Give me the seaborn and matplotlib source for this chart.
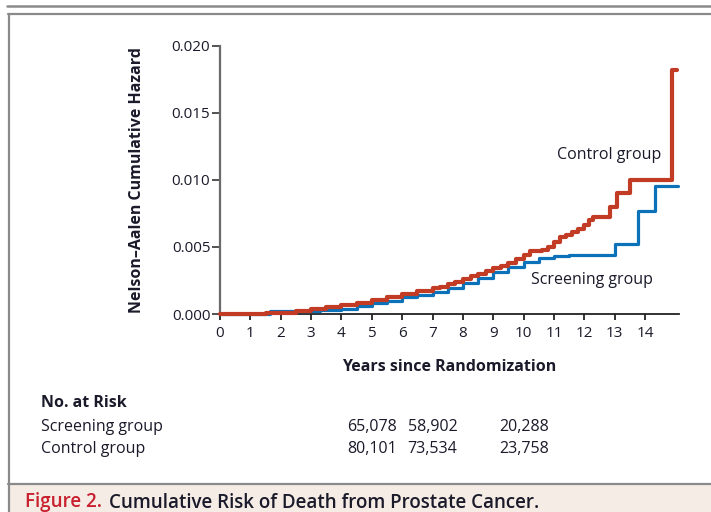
import matplotlib
matplotlib.use("Agg")
import matplotlib.pyplot as plt
from matplotlib.patches import Rectangle
from matplotlib.lines import Line2D
import pandas as pd
import seaborn as sns

# Nelson-Aalen cumulative hazard, step points (years, hazard)
control_years = [0.0, 1.0, 1.5, 2.0, 2.5, 3.0, 3.5, 4.0, 4.5, 5.0, 5.5, 6.0, 6.5,
                 7.0, 7.25, 7.5, 7.75, 8.0, 8.25, 8.5, 8.75, 9.0, 9.25, 9.5, 9.75,
                 10.0, 10.2, 10.6, 10.8, 11.0, 11.2, 11.4, 11.6, 11.8, 12.0, 12.15,
                 12.3, 12.85, 13.07, 13.5, 14.9, 15.05]
control_hazard = [0.0, 0.00002, 0.00005, 0.0001, 0.0002, 0.00035, 0.0005, 0.00067,
                  0.00085, 0.00105, 0.00127, 0.0015, 0.00172, 0.0019, 0.0020, 0.0022,
                  0.0024, 0.0026, 0.0028, 0.0030, 0.0032, 0.0034, 0.0036, 0.0038,
                  0.0041, 0.0044, 0.0047, 0.0048, 0.0050, 0.0054, 0.0057, 0.0059,
                  0.0061, 0.0063, 0.0066, 0.0070, 0.0072, 0.0080, 0.0090, 0.0100,
                  0.0182, 0.0182]

screening_years = [0.0, 1.0, 1.65, 2.5, 3.3, 4.0, 4.5, 5.0, 5.5, 6.0, 6.5, 7.0, 7.5,
                   8.0, 8.5, 9.0, 9.5, 10.0, 10.5, 11.0, 11.5, 13.0, 13.75, 14.33,
                   15.08]
screening_hazard = [0.0, 0.00001, 0.0002, 0.00022, 0.0003, 0.0004, 0.0006, 0.0008,
                    0.0010, 0.00125, 0.00145, 0.00165, 0.0019, 0.0023, 0.0027, 0.0031,
                    0.0035, 0.0039, 0.0042, 0.0043, 0.0044, 0.00525, 0.0077, 0.0095,
                    0.0095]

groups = ["Screening group", "Control group"]
group_colors = ["#0b72b9", "#c23b24"]

x_ticks = list(range(0, 15))
y_ticks = [0.000, 0.005, 0.010, 0.015, 0.020]
y_tick_labels = ["0.000", "0.005", "0.010", "0.015", "0.020"]

risk_years = [5, 7, 10]
risk_screening = ["65,078", "58,902", "20,288"]
risk_control = ["80,101", "73,534", "23,758"]

df = pd.concat([
    pd.DataFrame({"year": screening_years, "hazard": screening_hazard, "group": groups[0]}),
    pd.DataFrame({"year": control_years, "hazard": control_hazard, "group": groups[1]}),
], ignore_index=True)

sns.set_theme(style="white")
plt.rcParams["font.family"] = ["Open Sans", "DejaVu Sans"]

W, H = 711, 512
fig = plt.figure(figsize=(W / 100, H / 100), dpi=100)
text_color = "#1a1a2a"
fs = 11.5

# page frame lines and caption band
frame_color = "#8a8a8a"
fig.add_artist(Line2D([7 / W, 1], [1 - 5.5 / H] * 2, color=frame_color, lw=1.8))
fig.add_artist(Line2D([8 / W, 1], [1 - 13.5 / H] * 2, color=frame_color, lw=1.6))
fig.add_artist(Line2D([8.5 / W] * 2, [0, 1 - 13.5 / H], color=frame_color, lw=1.6))
fig.add_artist(Rectangle((9 / W, 0), 1, (H - 484) / H, transform=fig.transFigure,
                         facecolor="#f4ece5", edgecolor="none"))
fig.add_artist(Line2D([8 / W, 1], [1 - 484 / H] * 2, color=frame_color, lw=1.6))

ax = fig.add_axes([220 / W, 1 - 314 / H, (678.5 - 220) / W, (314 - 45.5) / H])

sns.lineplot(data=df[df.group == groups[0]], x="year", y="hazard", ax=ax,
             color=group_colors[0], lw=2.3, drawstyle="steps-post",
             estimator=None, sort=False, clip_on=False, zorder=3)
sns.lineplot(data=df[df.group == groups[1]], x="year", y="hazard", ax=ax,
             color=group_colors[1], lw=3.0, drawstyle="steps-post",
             estimator=None, sort=False, clip_on=False, zorder=4)

ax.set_xlim(0, 15.1)
ax.set_ylim(0, 0.0200)
ax.set_xticks(x_ticks)
ax.set_yticks(y_ticks)
ax.set_yticklabels(y_tick_labels)

for side in ["top", "right"]:
    ax.spines[side].set_visible(False)
ax.spines["left"].set_color("#6a6a6a")
ax.spines["left"].set_linewidth(1.6)
ax.spines["bottom"].set_color("#222222")
ax.spines["bottom"].set_linewidth(1.3)
ax.tick_params(axis="y", direction="out", length=6, width=1.3, color="#444444",
               labelsize=11, labelcolor=text_color, pad=1, left=True)
ax.tick_params(axis="x", direction="out", length=4.5, width=1.3, color="#222222",
               labelsize=11, labelcolor=text_color, pad=4, bottom=True)

ax.set_xlabel("Years since Randomization", fontsize=fs, fontweight="bold",
              color=text_color)
ax.set_ylabel("Nelson\u2013Aalen Cumulative Hazard", fontsize=fs, fontweight="bold",
              color=text_color)
ax.xaxis.label.set_va("center")
ax.yaxis.label.set_va("center")
ax.yaxis.label.set_ha("center")
ax.xaxis.set_label_coords(0.499, -(367 - 314) / 268.5)
ax.yaxis.set_label_coords(-(220 - 137) / 458.5, 0.5)

ax.text(12.8, 0.01182, groups[1], ha="center", va="center", fontsize=fs,
        color=text_color)
ax.text(12.24, 0.00253, groups[0], ha="center", va="center", fontsize=fs,
        color=text_color)

# number-at-risk table
fig.text(41 / W, 1 - 403 / H, "No. at Risk", fontsize=fs, fontweight="bold",
         color=text_color, va="center")
fig.text(41 / W, 1 - 427 / H, groups[0], fontsize=fs, color=text_color, va="center")
fig.text(41 / W, 1 - 449 / H, groups[1], fontsize=fs, color=text_color, va="center")
blend = matplotlib.transforms.blended_transform_factory(ax.transData, fig.transFigure)
for yr, s, c in zip(risk_years, risk_screening, risk_control):
    ax.text(yr, 1 - 427 / H, s, transform=blend, ha="center", va="center",
            fontsize=fs, color=text_color, clip_on=False)
    ax.text(yr, 1 - 449 / H, c, transform=blend, ha="center", va="center",
            fontsize=fs, color=text_color, clip_on=False)

# figure caption in the bottom band
fig.text(25 / W, 1 - 507.5 / H, "Figure 2.", fontsize=13.5, color="#c8202f",
         fontweight="semibold", va="baseline")
fig.text(109 / W, 1 - 507.5 / H, "Cumulative Risk of Death from Prostate Cancer.",
         fontsize=13.5, color=text_color, fontweight="semibold", va="baseline")

fig.savefig("out.png", dpi=100)
